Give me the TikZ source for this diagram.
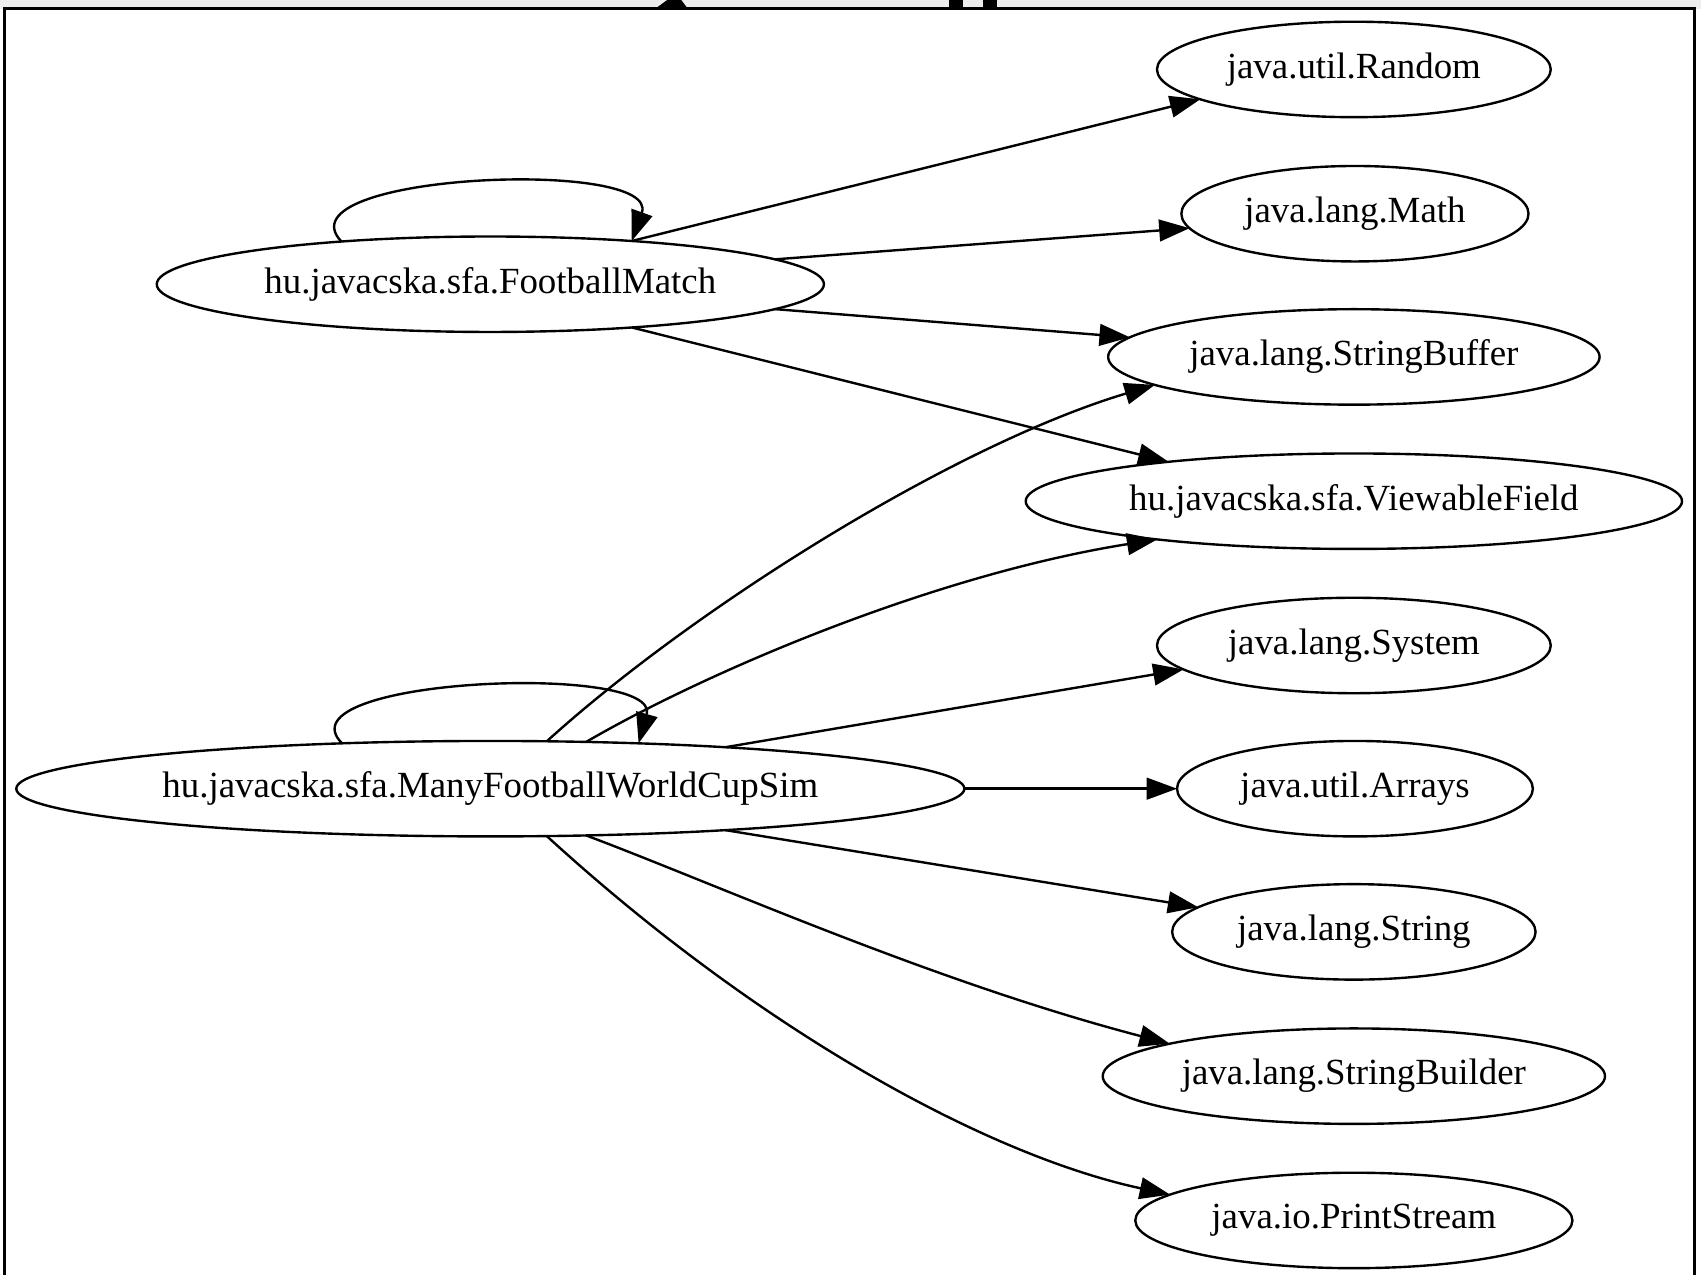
\documentclass[tikz,border=0pt]{standalone}
\usepackage{fontspec}
\setmainfont{Liberation Serif}
\usepackage{tikz}
\usetikzlibrary{arrows.meta}
\usetikzlibrary{shapes.geometric}
\tikzset{cls/.style = {draw, ellipse, inner sep = 0, outer sep = 0, minimum height = 44, font = \fontsize{17}{20}\selectfont}}
\tikzset{dep/.style = {-{Triangle[length = 14pt, width = 10pt]}}}
\definecolor{topgray}{rgb}{0.93, 0.93, 0.92}

\begin{document}
\begin{tikzpicture}[x = 0.5pt, y = -0.5pt, line width = 1.1pt]
    \useasboundingbox (0, 0) rectangle (1568, 1175);

    \fill [topgray] (0, 0) rectangle (1568, 8);
    \fill (604, 8) -- (615, 0) -- (628, 0) -- (634, 8) -- cycle;
    \fill (875, 0) rectangle (888, 8);
    \fill (906, 0) rectangle (919, 8);
    \draw [line width = 1.4pt] (4, 1175) -- (4, 8) -- (1562, 8) -- (1562, 1175);

    \node [cls, minimum width = 307.5] (fm) at (452, 262) {hu.javacska.sfa.FootballMatch};
    \node [cls, minimum width = 437] (mf) at (452, 727) {hu.javacska.sfa.ManyFootballWorldCupSim};

    \node [cls, minimum width = 181.5] (random) at (1248, 64) {java.util.Random};
    \node [cls, minimum width = 160] (math) at (1249, 197) {java.lang.Math};
    \node [cls, minimum width = 226.5] (sbuf) at (1248, 329) {java.lang.StringBuffer};
    \node [cls, minimum width = 302.5] (viewable) at (1248, 462) {hu.javacska.sfa.ViewableField};
    \node [cls, minimum width = 181.5] (system) at (1248, 595) {java.lang.System};
    \node [cls, minimum width = 164] (arrays) at (1249, 727) {java.util.Arrays};
    \node [cls, minimum width = 167.5] (string) at (1248, 859) {java.lang.String};
    \node [cls, minimum width = 231.5] (sbuild) at (1248, 992) {java.lang.StringBuilder};
    \node [cls, minimum width = 201.5] (pstream) at (1248, 1125) {java.io.PrintStream};

    \draw [dep] (fm.164) .. controls (255, 160) and (610, 145) .. (fm.17);
    \draw [dep] (fm.17) -- (random.191);
    \draw [dep] (fm.5) -- (math.185);
    \draw [dep] (fm.355) -- (sbuf.175);
    \draw [dep] (fm.343) -- (viewable.168);

    \draw [dep] (mf.163) .. controls (255, 625) and (610, 610) .. (mf.17);
    \draw [dep] (mf.40) .. controls (640, 560) and (880, 410) .. (sbuf.188);
    \draw [dep] (mf.26) .. controls (650, 620) and (860, 530) .. (viewable.191);
    \draw [dep] (mf.10) -- (system.188);
    \draw [dep] (mf.east) -- (arrays.west);
    \draw [dep] (mf.350) -- (string.171);
    \draw [dep] (mf.334) .. controls (660, 815) and (860, 905) .. (sbuild.170);
    \draw [dep] (mf.320) .. controls (700, 950) and (910, 1065) .. (pstream.172);
\end{tikzpicture}
\end{document}
